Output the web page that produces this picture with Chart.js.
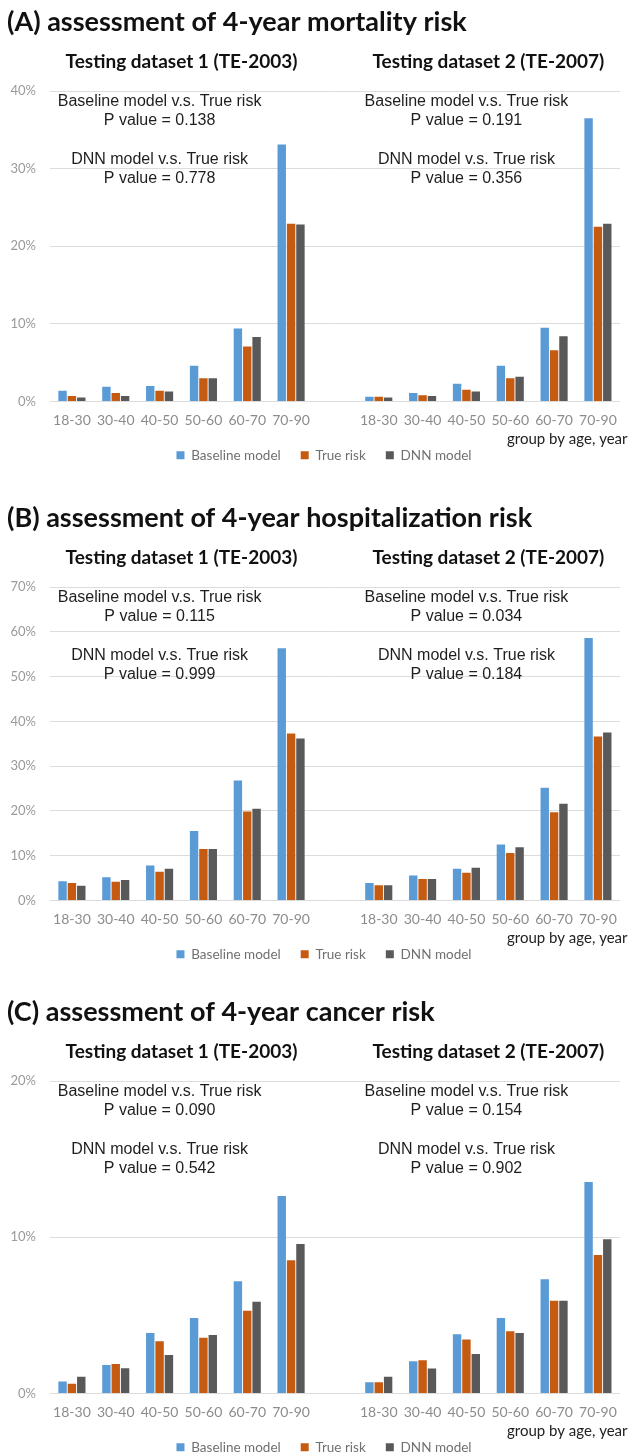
<!DOCTYPE html>
<html>
<head>
<meta charset="utf-8">
<script src="https://cdn.jsdelivr.net/npm/chart.js@4.4.0/dist/chart.umd.min.js"></script>
<style>
  html, body { margin: 0; padding: 0; background: #ffffff; overflow: hidden; }
  body { width: 628px; height: 1454px; position: relative; }
  .panel { position: absolute; left: 0; width: 628px; }
  canvas { display: block; }
</style>
</head>
<body>
<div class="panel" style="top:0px"><canvas id="chartA" width="628" height="496"></canvas></div>
<div class="panel" style="top:496px"><canvas id="chartB" width="628" height="494"></canvas></div>
<div class="panel" style="top:990px"><canvas id="chartC" width="628" height="480"></canvas></div>
<script>
// Age groups for both testing datasets; the blank slot separates the two datasets on one axis
const ageGroups = ['18-30', '30-40', '40-50', '50-60', '60-70', '70-90'];
const categories = [...ageGroups, '', ...ageGroups];
const seriesNames = ['Baseline model', 'True risk', 'DNN model'];

// (A) 4-year mortality risk, % — TE-2003 then TE-2007
const mortBaseline1 = [1.4, 1.9, 2.0, 4.6, 9.4, 33.1];
const mortTrue1     = [0.7, 1.1, 1.4, 3.0, 7.1, 22.9];
const mortDnn1      = [0.5, 0.7, 1.3, 3.0, 8.3, 22.8];
const mortBaseline2 = [0.6, 1.1, 2.3, 4.6, 9.5, 36.5];
const mortTrue2     = [0.6, 0.8, 1.5, 3.0, 6.6, 22.5];
const mortDnn2      = [0.5, 0.7, 1.3, 3.2, 8.4, 22.9];

// (B) 4-year hospitalization risk, %
const hospBaseline1 = [4.3, 5.2, 7.8, 15.5, 26.8, 56.3];
const hospTrue1     = [3.9, 4.2, 6.4, 11.5, 19.9, 37.3];
const hospDnn1      = [3.3, 4.6, 7.1, 11.5, 20.5, 36.2];
const hospBaseline2 = [3.9, 5.6, 7.1, 12.5, 25.2, 58.6];
const hospTrue2     = [3.4, 4.8, 6.2, 10.6, 19.7, 36.6];
const hospDnn2      = [3.4, 4.8, 7.3, 11.9, 21.6, 37.5];

// (C) 4-year cancer risk, %
const cancBaseline1 = [0.77, 1.83, 3.87, 4.83, 7.19, 12.64];
const cancTrue1     = [0.62, 1.89, 3.34, 3.57, 5.30, 8.53];
const cancDnn1      = [1.08, 1.62, 2.47, 3.74, 5.87, 9.57];
const cancBaseline2 = [0.72, 2.06, 3.79, 4.83, 7.32, 13.53];
const cancTrue2     = [0.72, 2.13, 3.45, 3.98, 5.94, 8.87];
const cancDnn2      = [1.08, 1.60, 2.53, 3.87, 5.94, 9.87];

// y-axis tick ranges (percent)
const mortTicks = { max: 40, step: 10 };
const hospTicks = { max: 70, step: 10 };
const cancTicks = { max: 20, step: 10 };

// Panel headings and comparison notes
const panelTitles = [
  '(A) assessment of 4-year mortality risk',
  '(B) assessment of 4-year hospitalization risk',
  '(C) assessment of 4-year cancer risk'
];
const datasetTitles = ['Testing dataset 1 (TE-2003)', 'Testing dataset 2 (TE-2007)'];
const mortPValues = [['0.138', '0.778'], ['0.191', '0.356']];
const hospPValues = [['0.115', '0.999'], ['0.034', '0.184']];
const cancPValues = [['0.090', '0.542'], ['0.154', '0.902']];
const xAxisName = 'group by age, year';

const seriesColors = ['#5B9BD5', '#C55A11', '#595959'];

function joinGroups(a, b) { return [...a, null, ...b]; }

// Lets the y tick labels use the margin left of the axis box
const yLabelRoom = {
  id: 'yLabelRoom',
  afterLayout(chart) { chart.scales.y.left = 0; }
};

// Draws the panel heading, dataset subtitles, p-value notes and the axis name
const panelText = {
  id: 'panelText',
  afterDraw(chart, args, opts) {
    const { ctx, chartArea, scales } = chart;
    const x = scales.x;
    ctx.save();
    ctx.textBaseline = 'middle';

    ctx.fillStyle = '#111111';
    ctx.textAlign = 'left';
    ctx.font = 'bold 27px Lato';
    ctx.fillText(opts.title, 7, chartArea.top - 69);

    ctx.textAlign = 'center';
    ctx.font = 'bold 19px Lato';
    const mid1 = (x.getPixelForValue(0) + x.getPixelForValue(5)) / 2;
    const mid2 = (x.getPixelForValue(7) + x.getPixelForValue(12)) / 2;
    ctx.fillText(datasetTitles[0], mid1, chartArea.top - 29);
    ctx.fillText(datasetTitles[1], mid2, chartArea.top - 29);

    ctx.font = '16px "Liberation Sans"';
    ctx.fillStyle = '#1e1e1e';
    [2, 9].forEach((idx, k) => {
      const cx = x.getPixelForValue(idx);
      const [pBase, pDnn] = opts.pValues[k];
      ctx.fillText('Baseline model v.s. True risk', cx, chartArea.top + 11);
      ctx.fillText('P value = ' + pBase, cx, chartArea.top + 30);
      ctx.fillText('DNN model v.s. True risk', cx, chartArea.top + 69);
      ctx.fillText('P value = ' + pDnn, cx, chartArea.top + 88);
    });

    ctx.textAlign = 'left';
    ctx.font = '15px Lato';
    ctx.fillStyle = '#222222';
    ctx.fillText(xAxisName, 507, chartArea.bottom + 38);
    ctx.restore();
  }
};

function makeChart(id, b1, t1, d1, b2, t2, d2, ticks, title, pValues, padBottom) {
  const values = [joinGroups(b1, b2), joinGroups(t1, t2), joinGroups(d1, d2)];
  return new Chart(document.getElementById(id), {
    type: 'bar',
    data: {
      labels: categories,
      datasets: seriesNames.map((name, i) => ({
        label: name,
        data: values[i],
        backgroundColor: seriesColors[i],
        borderWidth: 0,
        categoryPercentage: 0.64,
        barPercentage: 0.9
      }))
    },
    plugins: [yLabelRoom, panelText],
    options: {
      responsive: false,
      animation: false,
      devicePixelRatio: 1,
      layout: { padding: { top: 91, left: 26, right: 6, bottom: padBottom } },
      plugins: {
        title: { display: false },
        tooltip: { enabled: false },
        legend: {
          display: true,
          position: 'bottom',
          labels: {
            boxWidth: 8,
            boxHeight: 8,
            padding: 20,
            color: '#707070',
            font: { family: 'Lato', size: 13.5 }
          }
        },
        panelText: { title, pValues }
      },
      scales: {
        x: {
          grid: { display: false, drawTicks: false },
          border: { display: false },
          ticks: {
            color: '#8c8c8c',
            padding: 11,
            maxRotation: 0,
            autoSkip: false,
            font: { family: 'Lato', size: 14 }
          },
          afterFit(scale) { scale.height = 27; }
        },
        y: {
          min: 0,
          max: ticks.max,
          border: { display: false },
          grid: { color: '#dcdcdc', lineWidth: 1, drawTicks: false },
          ticks: {
            stepSize: ticks.step,
            padding: 14,
            color: '#9a9a9a',
            font: { family: 'Lato', size: 13 },
            callback: v => v + '%'
          },
          afterFit(scale) { scale.width = 24; }
        }
      }
    }
  });
}

makeChart('chartA', mortBaseline1, mortTrue1, mortDnn1, mortBaseline2, mortTrue2, mortDnn2,
          mortTicks, panelTitles[0], mortPValues, 24);
makeChart('chartB', hospBaseline1, hospTrue1, hospDnn1, hospBaseline2, hospTrue2, hospDnn2,
          hospTicks, panelTitles[1], hospPValues, 19);
makeChart('chartC', cancBaseline1, cancTrue1, cancDnn1, cancBaseline2, cancTrue2, cancDnn2,
          cancTicks, panelTitles[2], cancPValues, 6);
</script>
</body>
</html>
